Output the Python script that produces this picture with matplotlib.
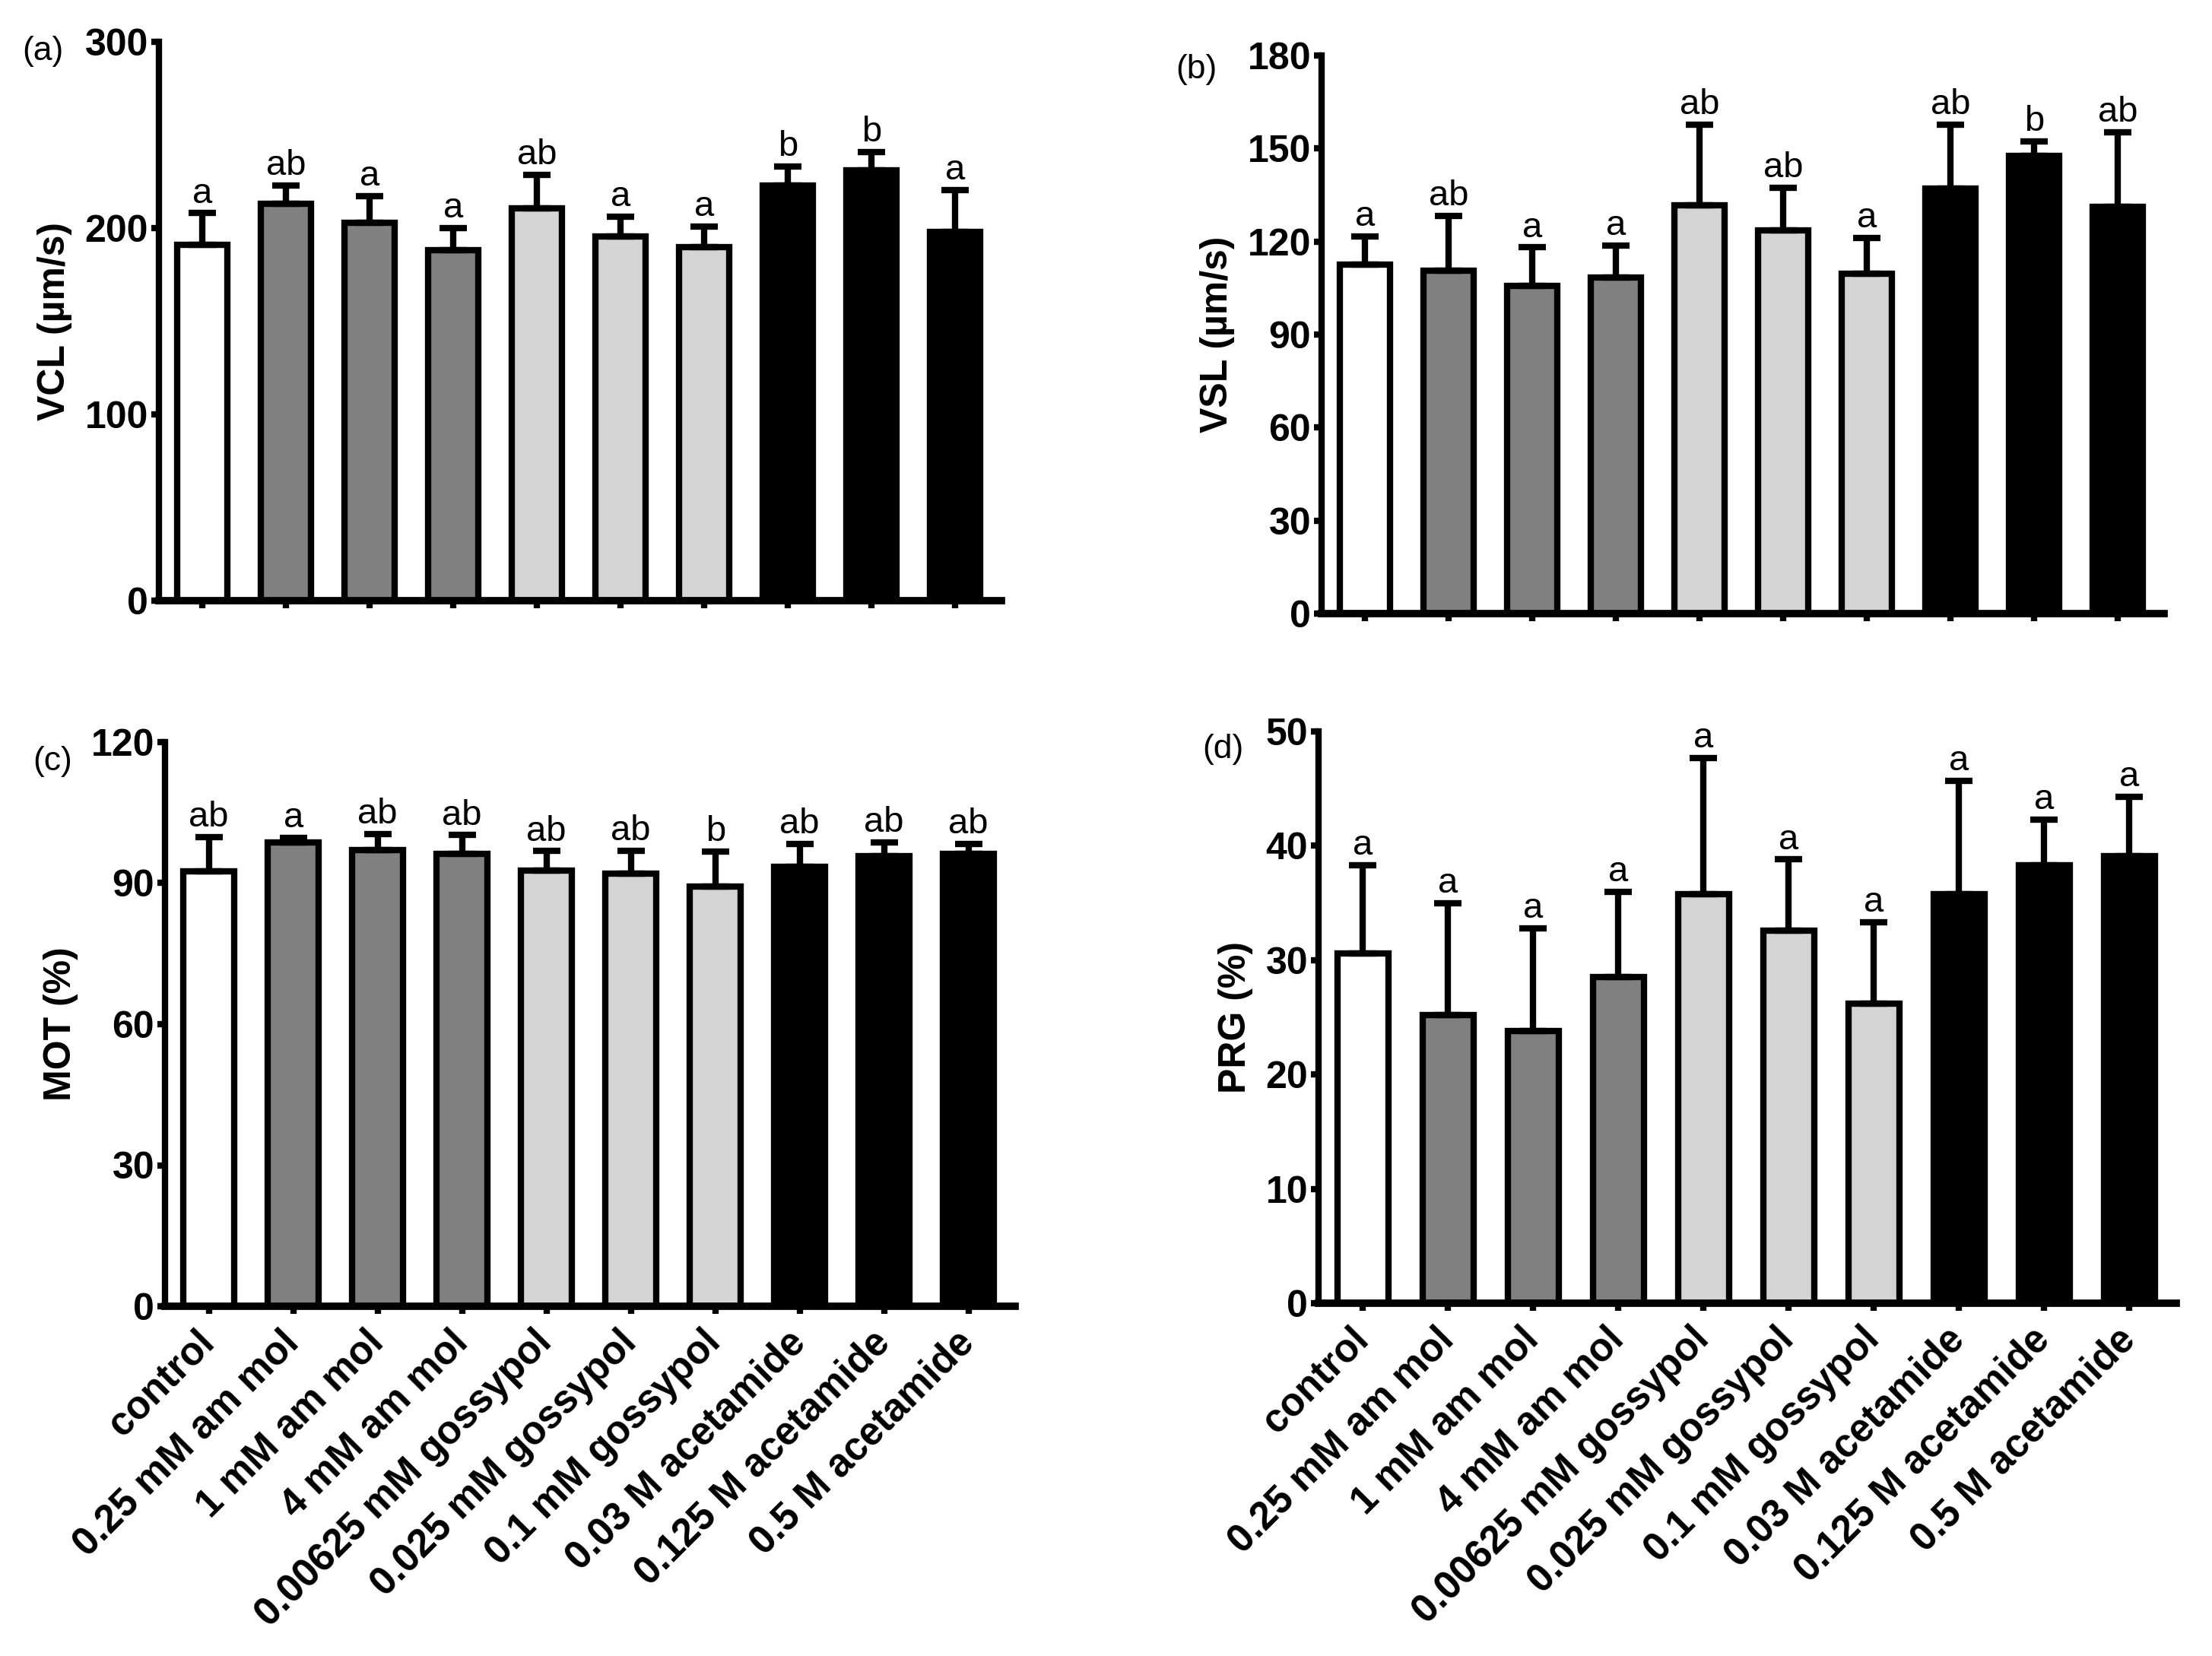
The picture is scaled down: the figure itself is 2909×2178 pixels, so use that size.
import numpy as np
import matplotlib.pyplot as plt

plt.rcParams['font.family'] = ['Liberation Sans', 'DejaVu Sans']

groups = ['control', '0.25 mM am mol', '1 mM am mol', '4 mM am mol',
          '0.00625 mM gossypol', '0.025 mM gossypol', '0.1 mM gossypol',
          '0.03 M acetamide', '0.125 M acetamide', '0.5 M acetamide']
bar_colors = ['white', '#808080', '#808080', '#808080',
              '#d4d4d4', '#d4d4d4', '#d4d4d4', 'black', 'black', 'black']

vcl = [191, 213, 203, 188, 210.5, 195.5, 190, 223, 231, 198]
vcl_err = [17, 10, 14, 12, 18, 10.5, 11, 10, 10, 22.5]
vcl_sig = ['a', 'ab', 'a', 'a', 'ab', 'a', 'a', 'b', 'b', 'a']

vsl = [112.5, 110.5, 105.8, 108.5, 131.8, 123.5, 109.5, 137.2, 147.7, 131.3]
vsl_err = [9.2, 17.7, 12.3, 10.1, 25.8, 13.9, 11.6, 20.5, 4.7, 24]
vsl_sig = ['a', 'ab', 'a', 'a', 'ab', 'ab', 'a', 'ab', 'b', 'ab']

mot = [92.5, 98.7, 97, 96.2, 92.6, 92, 89.2, 93.5, 95.8, 96.2]
mot_err = [7.3, 1, 3.5, 4, 4.2, 4.9, 7.5, 4.8, 2.9, 2.2]
mot_sig = ['ab', 'a', 'ab', 'ab', 'ab', 'ab', 'b', 'ab', 'ab', 'ab']

prg = [30.6, 25.2, 23.8, 28.5, 35.8, 32.6, 26.2, 35.8, 38.3, 39.1]
prg_err = [7.7, 9.8, 9, 7.5, 11.9, 6.2, 7.1, 9.9, 4, 5.2]
prg_sig = ['a'] * 10

W, H = 2909, 2178
fig = plt.figure(figsize=(W / 100, H / 100), dpi=100)
LW = 6


def panel(x0, y_zero, y_top, step, vals, errs, sig, ymax, ytick_step,
          ylabel, tag, tag_xy, show_names):
    ax = fig.add_axes([x0 / W, 1 - y_zero / H, 10.07 * step / W,
                       (y_zero - y_top) / H])
    x = np.arange(len(vals))
    ax.bar(x, vals, width=0.6, color=bar_colors, edgecolor='black',
           linewidth=LW, zorder=2)
    ax.errorbar(x, vals, yerr=[np.zeros(len(errs)), errs], fmt='none',
                ecolor='black', elinewidth=LW, capsize=13, capthick=LW,
                zorder=3)
    for xi, v, e, s in zip(x, vals, errs, sig):
        ax.annotate(s, (xi, v + e), xytext=(0, 10), textcoords='offset points',
                    ha='center', va='baseline', fontsize=34)
    ax.set_xlim(-0.52, 9.55)
    ax.set_ylim(0, ymax)
    ax.set_yticks(np.arange(0, ymax + 1, ytick_step))
    ax.set_xticks(x)
    for side in ['top', 'right']:
        ax.spines[side].set_visible(False)
    ax.spines['left'].set_linewidth(LW)
    ax.spines['bottom'].set_linewidth(7)
    ax.tick_params(width=LW, length=7, pad=3)
    ax.tick_params(axis='y', labelsize=36)
    for lab in ax.get_yticklabels():
        lab.set_fontweight('bold')
    if show_names:
        ax.set_xticklabels(groups, rotation=45, ha='right', va='center',
                           rotation_mode='anchor', fontsize=37,
                           fontweight='bold')
        ax.tick_params(axis='x', pad=22)
    else:
        ax.set_xticklabels([])
    ax.set_ylabel(ylabel, fontsize=36, fontweight='bold', labelpad=12)
    fig.text(tag_xy[0] / W, 1 - tag_xy[1] / H, tag, ha='center',
             va='center', fontsize=32)
    return ax


panel(209, 790, 55, 110, vcl, vcl_err, vcl_sig, 300, 100,
      'VCL (\u00b5m/s)', '(a)', (56, 67), False)
panel(1738, 807, 73, 110, vsl, vsl_err, vsl_sig, 180, 30,
      'VSL (\u00b5m/s)', '(b)', (1573, 92), False)
panel(217, 1718, 976, 111, mot, mot_err, mot_sig, 120, 30,
      'MOT (%)', '(c)', (69, 1001), True)
panel(1734, 1714, 962, 112, prg, prg_err, prg_sig, 50, 10,
      'PRG (%)', '(d)', (1608, 985), True)

fig.savefig('out.png', dpi=100)
